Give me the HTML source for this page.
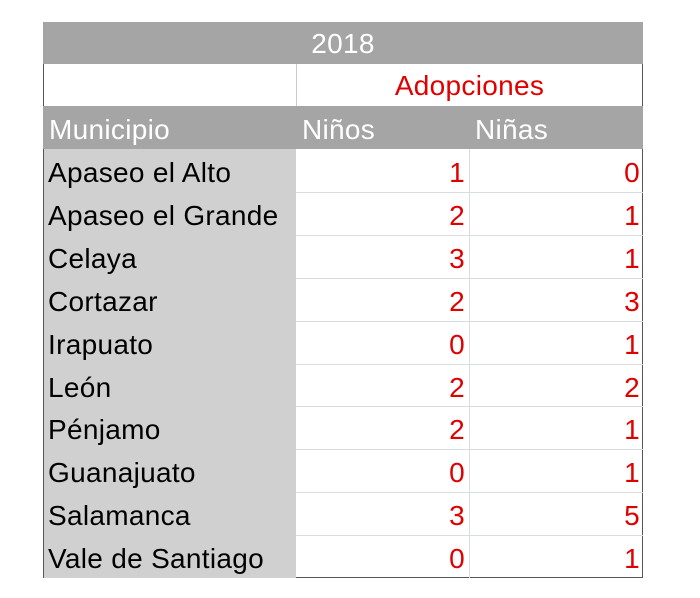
<!DOCTYPE html>
<html><head><meta charset="utf-8"><style>
body{margin:0;width:700px;height:598px;background:#fff;font-family:"Liberation Sans",sans-serif;position:relative;overflow:hidden}
.a{position:absolute;box-sizing:border-box;white-space:nowrap}
.t{font-size:28px;line-height:47px;letter-spacing:0.3px}
</style></head><body>
<div class="a" style="left:43px;top:22px;width:600px;height:556px;border:1px solid #555;border-top:none;"></div>
<div class="a t" style="left:43px;top:22px;width:600px;height:42px;background:#a5a5a5;color:#fff;text-align:center;line-height:44px;">2018</div>
<div class="a" style="left:296px;top:64px;width:1px;height:42px;background:#ccc"></div>
<div class="a t" style="left:296px;top:64px;width:347px;height:42px;color:#e00000;text-align:center;line-height:44px;">Adopciones</div>
<div class="a" style="left:43px;top:106px;width:600px;height:43px;background:#a5a5a5;"></div>
<div class="a t" style="left:49px;top:106px;color:#fff;">Municipio</div>
<div class="a t" style="left:302px;top:106px;color:#fff;">Niños</div>
<div class="a t" style="left:475px;top:106px;color:#fff;">Niñas</div>
<div class="a" style="left:44px;top:149px;width:252px;height:429px;background:#d0d0d0"></div>
<div class="a" style="left:469px;top:149px;width:1px;height:429px;background:#d8dde2"></div>
<div id="rows"></div>
<script>
var d=[["Apaseo el Alto",1,0],["Apaseo el Grande",2,1],["Celaya",3,1],["Cortazar",2,3],["Irapuato",0,1],["León",2,2],["Pénjamo",2,1],["Guanajuato",0,1],["Salamanca",3,5],["Vale de Santiago",0,1]];
var h="";
d.forEach(function(r,i){var y=149+i*42.9;
h+='<div class="a t" style="left:48px;top:'+y+'px;color:#000">'+r[0]+'</div>';
h+='<div class="a t" style="left:296px;top:'+y+'px;width:169px;text-align:right;color:#e00000">'+r[1]+'</div>';
h+='<div class="a t" style="left:469px;top:'+y+'px;width:171px;text-align:right;color:#e00000">'+r[2]+'</div>';
if(i<9)h+='<div class="a" style="left:296px;top:'+(y+42.9)+'px;width:347px;height:1px;background:#d8dde2"></div>';
});
document.getElementById("rows").innerHTML=h;
</script>
</body></html>
